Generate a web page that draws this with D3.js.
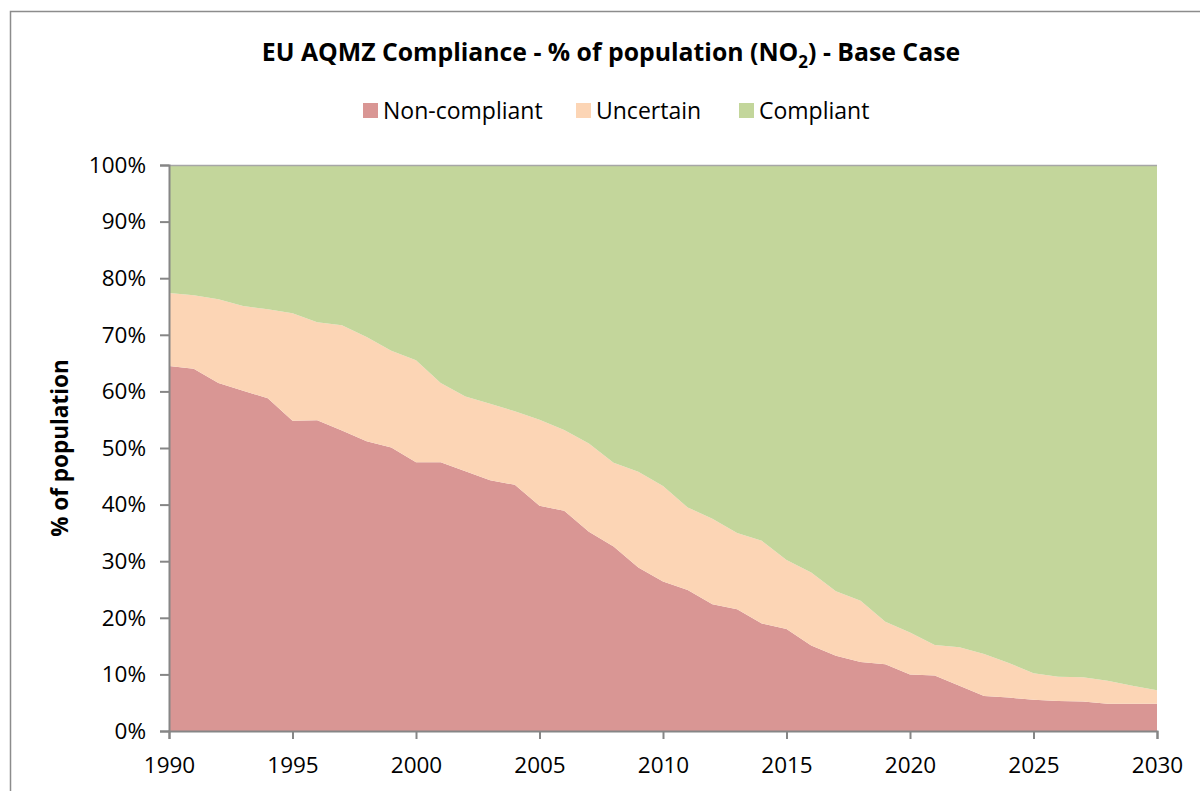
<!DOCTYPE html>
<html>
<head>
<meta charset="utf-8">
<script src="https://cdn.jsdelivr.net/npm/d3@7"></script>
<style>
  body { margin: 0; background: #fff; }
  text { font-family: "Open Sans", "Noto Sans", sans-serif; fill: #000; }
</style>
</head>
<body>
<div id="chart"></div>
<script>
// data (% of population)
var years = d3.range(1990, 2031);
var nonCompliant = [64.5, 64.0, 61.5, 60.1, 58.8, 54.8, 54.9, 53.1, 51.2, 50.1,
    47.5, 47.5, 45.9, 44.3, 43.5, 39.8, 38.9, 35.2, 32.6, 28.9,
    26.4, 24.9, 22.4, 21.5, 19.0, 18.0, 15.1, 13.3, 12.2, 11.8,
    10.0, 9.8, 8.0, 6.2, 5.9, 5.5, 5.3, 5.2, 4.8, 4.8, 4.8];
var uncertain = [12.9, 13.0, 14.8, 15.0, 15.7, 19.0, 17.3, 18.6, 18.4, 17.1,
    18.0, 14.0, 13.2, 13.5, 13.0, 15.2, 14.3, 15.6, 14.8, 16.9,
    16.9, 14.6, 15.1, 13.5, 14.6, 12.2, 12.9, 11.4, 10.8, 7.5,
    7.4, 5.4, 6.8, 7.4, 6.1, 4.7, 4.3, 4.3, 4.1, 3.2, 2.4];
var compliant = [22.6, 23.0, 23.7, 24.9, 25.5, 26.2, 27.8, 28.3, 30.4, 32.8,
    34.5, 38.5, 40.9, 42.2, 43.5, 45.0, 46.8, 49.2, 52.6, 54.2,
    56.7, 60.5, 62.5, 65.0, 66.4, 69.8, 72.0, 75.3, 77.0, 80.7,
    82.6, 84.8, 85.2, 86.4, 88.0, 89.8, 90.4, 90.5, 91.1, 92.0, 92.8];
var seriesNames = ["Non-compliant", "Uncertain", "Compliant"];
var xTicks = [1990, 1995, 2000, 2005, 2010, 2015, 2020, 2025, 2030];
var yTicks = [0, 10, 20, 30, 40, 50, 60, 70, 80, 90, 100];

var colors = ["#d99694", "#fcd5b5", "#c3d69b"];
var axisColor = "#868686";

var W = 1200, H = 791;
var margin = { top: 165, right: 43, bottom: 60, left: 169 },
    width = W - margin.left - margin.right,
    height = H - margin.top - margin.bottom;

var svgRoot = d3.select("#chart")
    .append("svg")
    .attr("width", W)
    .attr("height", H);

// outer chart border
svgRoot.append("rect")
    .attr("x", 10.5).attr("y", 11.5)
    .attr("width", W).attr("height", H)
    .attr("fill", "none")
    .attr("stroke", "#8c8c8c")
    .attr("stroke-width", 1.5);

var svg = svgRoot.append("g")
    .attr("transform", "translate(" + margin.left + "," + margin.top + ")");

var table = years.map(function(y, i) {
    return { year: y, "Non-compliant": nonCompliant[i], "Uncertain": uncertain[i], "Compliant": compliant[i] };
});

var stacked = d3.stack().keys(seriesNames)(table);

var x = d3.scaleLinear().domain([1990, 2030]).range([0, width]);
var y = d3.scaleLinear().domain([0, 100]).range([height, 0]);

var area = d3.area()
    .x(function(d) { return x(d.data.year); })
    .y0(function(d) { return y(d[0]); })
    .y1(function(d) { return y(Math.min(d[1], 100)); });

svg.append("g")
    .selectAll("path")
    .data(stacked)
    .enter()
    .append("path")
    .attr("d", area)
    .attr("fill", function(d, i) { return colors[i]; });

// top border line of plot
svg.append("line")
    .attr("x1", 0).attr("x2", width)
    .attr("y1", 0.5).attr("y2", 0.5)
    .attr("stroke", "#a6a6a6")
    .attr("stroke-width", 1.5);

// Y axis
var yAxis = svg.append("g")
    .call(d3.axisLeft(y).tickValues(yTicks).tickSize(9).tickPadding(14)
        .tickFormat(function(d) { return d + "%"; }));
yAxis.selectAll("text").style("font-size", "22.5px");

// X axis
var xAxis = svg.append("g")
    .attr("transform", "translate(0," + height + ")")
    .call(d3.axisBottom(x).tickValues(xTicks).tickSize(8).tickPadding(18)
        .tickFormat(d3.format("d")));
xAxis.selectAll("text").style("font-size", "22.5px");

[yAxis, xAxis].forEach(function(a) {
    a.select(".domain").attr("stroke", axisColor).attr("stroke-width", 2);
    a.selectAll(".tick line").attr("stroke", axisColor).attr("stroke-width", 2);
});

// Y axis title
svgRoot.append("text")
    .attr("transform", "translate(68,448) rotate(-90)")
    .attr("text-anchor", "middle")
    .style("font-size", "22.5px")
    .style("font-weight", "bold")
    .text("% of population");

// title
var title = svgRoot.append("text")
    .attr("x", 611)
    .attr("y", 61)
    .attr("text-anchor", "middle")
    .style("font-size", "24.8px")
    .style("font-weight", "bold");
title.append("tspan").text("EU AQMZ Compliance - % of population (NO");
title.append("tspan").attr("dy", 7).style("font-size", "17px").text("2");
title.append("tspan").attr("dy", -7).text(") - Base Case");

// legend
var legendX = [363, 576, 739];
var legend = svgRoot.append("g");
seriesNames.forEach(function(name, i) {
    legend.append("rect")
        .attr("x", legendX[i]).attr("y", 103)
        .attr("width", 15).attr("height", 15)
        .attr("fill", colors[i]);
    legend.append("text")
        .attr("x", legendX[i] + 20)
        .attr("y", 119)
        .style("font-size", "23px")
        .text(name);
});
</script>
</body>
</html>
